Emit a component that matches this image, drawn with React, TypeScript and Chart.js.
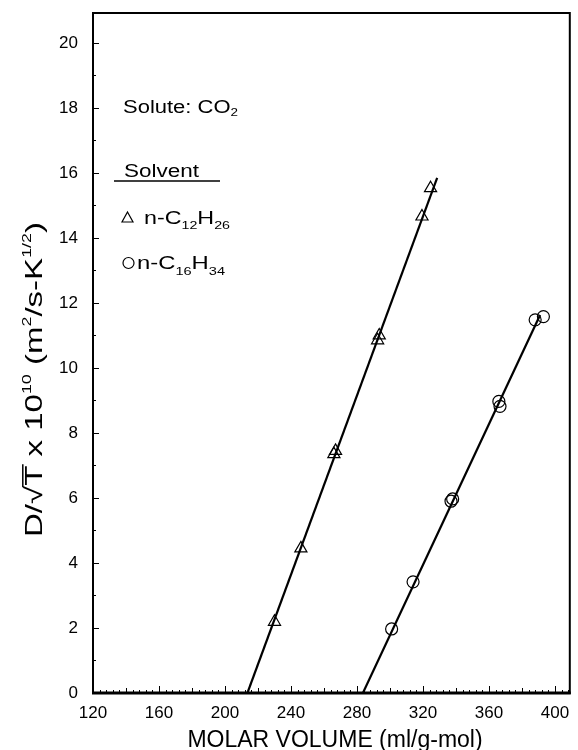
import React, { useEffect, useRef } from "react";
import { Chart, registerables } from "chart.js";

Chart.register(...registerables);

// ---- data ----
const dodecaneVolume = [230, 246, 266, 267, 292.5, 293.5, 319.4, 324.6];
const dodecaneD = [2.19, 4.45, 7.35, 7.45, 10.85, 11.0, 14.66, 15.53];
const hexadecaneVolume = [301, 314, 337, 338, 366, 366.7, 388, 393];
const hexadecaneD = [1.97, 3.42, 5.9, 5.97, 8.97, 8.82, 11.48, 11.58];
const dodecaneFitVolume = [213.6, 328.6];
const dodecaneFitD = [0, 15.85];
const hexadecaneFitVolume = [283.6, 391];
const hexadecaneFitD = [0, 11.63];
const xTickLabels = [120, 160, 200, 240, 280, 320, 360, 400];
const yTickLabels = [0, 2, 4, 6, 8, 10, 12, 14, 16, 18, 20];

const FAMILY = '"Liberation Sans", Arial, Helvetica, sans-serif';

type Part = { t: string; k?: "sup" | "sub"; over?: boolean };

function drawRich(
  ctx: CanvasRenderingContext2D,
  parts: Part[],
  x: number,
  y: number,
  o: { size: number; small: number; supDy: number; subDy: number; width?: number; align?: "left" | "center" }
) {
  const fontFor = (p: Part) => `${p.k ? o.small : o.size}px ${FAMILY}`;
  let w = 0;
  const ws = parts.map((p) => {
    ctx.font = fontFor(p);
    const m = ctx.measureText(p.t).width;
    w += m;
    return m;
  });
  const sx = o.width ? o.width / w : 1;
  ctx.save();
  ctx.translate(x, y);
  ctx.scale(sx, 1);
  ctx.fillStyle = "#000";
  ctx.strokeStyle = "#000";
  ctx.textAlign = "left";
  ctx.textBaseline = "alphabetic";
  let cx = o.align === "center" ? -w / 2 : 0;
  parts.forEach((p, i) => {
    ctx.font = fontFor(p);
    const dy = p.k === "sup" ? o.supDy : p.k === "sub" ? o.subDy : 0;
    ctx.fillText(p.t, cx, dy);
    if (p.over) {
      ctx.beginPath();
      ctx.lineWidth = 1.5;
      ctx.moveTo(cx - 1, -o.size * 0.8);
      ctx.lineTo(cx + ws[i] + 1, -o.size * 0.8);
      ctx.stroke();
    }
    cx += ws[i];
  });
  ctx.restore();
}

const decorPlugin = {
  id: "decor",
  afterDraw(chart: any) {
    const ctx: CanvasRenderingContext2D = chart.ctx;
    const { left, right, top, bottom } = chart.chartArea;
    const xs = chart.scales.x;
    const ys = chart.scales.y;
    ctx.save();
    ctx.strokeStyle = "#000";
    ctx.fillStyle = "#000";
    // frame
    ctx.lineWidth = 2;
    ctx.strokeRect(left, top, right - left, bottom - top);
    ctx.lineWidth = 3;
    ctx.beginPath();
    ctx.moveTo(left - 1, bottom);
    ctx.lineTo(right + 1, bottom);
    ctx.stroke();
    // inward ticks x
    ctx.lineWidth = 1;
    for (let v = 120; v <= 408; v += 4) {
      const px = Math.round(xs.getPixelForValue(v)) + 0.5;
      const len = v % 40 === 0 ? 7 : v % 20 === 0 ? 5 : 3;
      ctx.beginPath();
      ctx.moveTo(px, bottom);
      ctx.lineTo(px, bottom - len);
      ctx.stroke();
    }
    // inward ticks y
    for (let v = 0; v <= 20; v += 1) {
      const py = Math.round(ys.getPixelForValue(v)) + 0.5;
      const len = v % 2 === 0 ? 6 : 3;
      ctx.beginPath();
      ctx.moveTo(left, py);
      ctx.lineTo(left + len, py);
      ctx.stroke();
    }
    // x title
    ctx.font = `23px ${FAMILY}`;
    ctx.textAlign = "center";
    ctx.textBaseline = "alphabetic";
    ctx.fillText("MOLAR VOLUME (ml/g-mol)", 335, 747);
    // y title
    ctx.save();
    ctx.translate(42, 537);
    ctx.rotate(-Math.PI / 2);
    drawRich(
      ctx,
      [
        { t: "D/√" },
        { t: "T", over: true },
        { t: " x 10" },
        { t: "10", k: "sup" },
        { t: " (m" },
        { t: "2", k: "sup" },
        { t: "/s-K" },
        { t: "1/2", k: "sup" },
        { t: ")" },
      ],
      0,
      0,
      { size: 24, small: 13, supDy: -11, subDy: 0, width: 315 }
    );
    ctx.restore();
    // legend texts
    drawRich(ctx, [{ t: "Solute: CO" }, { t: "2", k: "sub" }], 123, 113, {
      size: 18, small: 11, supDy: 0, subDy: 3, width: 115,
    });
    drawRich(ctx, [{ t: "Solvent" }], 124, 177, { size: 18, small: 11, supDy: 0, subDy: 0, width: 75 });
    ctx.lineWidth = 1.5;
    ctx.beginPath();
    ctx.moveTo(114, 181);
    ctx.lineTo(220, 181);
    ctx.stroke();
    // triangle symbol
    ctx.lineWidth = 1.2;
    ctx.beginPath();
    ctx.moveTo(127.5, 212);
    ctx.lineTo(133, 222);
    ctx.lineTo(122, 222);
    ctx.closePath();
    ctx.stroke();
    drawRich(
      ctx,
      [{ t: "n-C" }, { t: "12", k: "sub" }, { t: "H" }, { t: "26", k: "sub" }],
      144,
      224,
      { size: 18, small: 11, supDy: 0, subDy: 5, width: 86 }
    );
    // circle symbol
    ctx.beginPath();
    ctx.arc(128.5, 263, 5.5, 0, Math.PI * 2);
    ctx.stroke();
    drawRich(
      ctx,
      [{ t: "n-C" }, { t: "16", k: "sub" }, { t: "H" }, { t: "34", k: "sub" }],
      137,
      269,
      { size: 18, small: 11, supDy: 0, subDy: 6, width: 88 }
    );
    ctx.restore();
  },
};

const zeroPad = (s: any) => {
  s.paddingTop = 0;
  s.paddingBottom = 0;
  s.paddingLeft = 0;
  s.paddingRight = 0;
};

export default function App() {
  const ref = useRef<HTMLCanvasElement | null>(null);
  useEffect(() => {
    if (!ref.current) return;
    const pts = (xs: number[], ys: number[]) => xs.map((x, i) => ({ x, y: ys[i] }));
    const chart = new Chart(ref.current, {
      type: "scatter",
      data: {
        datasets: [
          {
            label: "fit C12",
            data: pts(dodecaneFitVolume, dodecaneFitD),
            showLine: true,
            borderColor: "#000",
            borderWidth: 2.2,
            pointRadius: 0,
          },
          {
            label: "fit C16",
            data: pts(hexadecaneFitVolume, hexadecaneFitD),
            showLine: true,
            borderColor: "#000",
            borderWidth: 2.2,
            pointRadius: 0,
          },
          {
            label: "n-C12H26",
            data: pts(dodecaneVolume, dodecaneD),
            pointStyle: "triangle",
            pointRadius: 7,
            pointBorderWidth: 1.2,
            borderColor: "#000",
            backgroundColor: "rgba(0,0,0,0)",
          },
          {
            label: "n-C16H34",
            data: pts(hexadecaneVolume, hexadecaneD),
            pointStyle: "circle",
            pointRadius: 6,
            pointBorderWidth: 1.2,
            borderColor: "#000",
            backgroundColor: "rgba(0,0,0,0)",
          },
        ],
      },
      options: {
        animation: false,
        responsive: false,
        layout: { padding: { top: 13, right: 3, left: 0, bottom: 0 } },
        plugins: { legend: { display: false }, tooltip: { enabled: false } },
        scales: {
          x: {
            type: "linear",
            min: 120,
            max: 409,
            afterBuildTicks: (s: any) => {
              s.ticks = xTickLabels.map((v) => ({ value: v }));
            },
            afterFit: (s: any) => {
              s.height = 57;
              zeroPad(s);
            },
            ticks: {
              font: { family: FAMILY, size: 17 },
              color: "#000",
              padding: 10,
              maxRotation: 0,
              autoSkip: false,
              callback: (v: any) => String(v),
            },
            grid: { display: false, drawTicks: false },
            border: { display: false },
          },
          y: {
            type: "linear",
            min: 0,
            max: 20.92,
            afterBuildTicks: (s: any) => {
              s.ticks = yTickLabels.map((v) => ({ value: v }));
            },
            afterFit: (s: any) => {
              s.width = 93;
              zeroPad(s);
            },
            ticks: {
              font: { family: FAMILY, size: 17 },
              color: "#000",
              padding: 15,
              autoSkip: false,
              callback: (v: any) => String(v),
            },
            grid: { display: false, drawTicks: false },
            border: { display: false },
          },
        },
      },
      plugins: [decorPlugin],
    });
    return () => chart.destroy();
  }, []);
  return (
    <div style={{ position: "absolute", left: 0, top: 0, width: 578, height: 750, background: "#fff" }}>
      <canvas ref={ref} width={578} height={750} style={{ display: "block" }} />
    </div>
  );
}
